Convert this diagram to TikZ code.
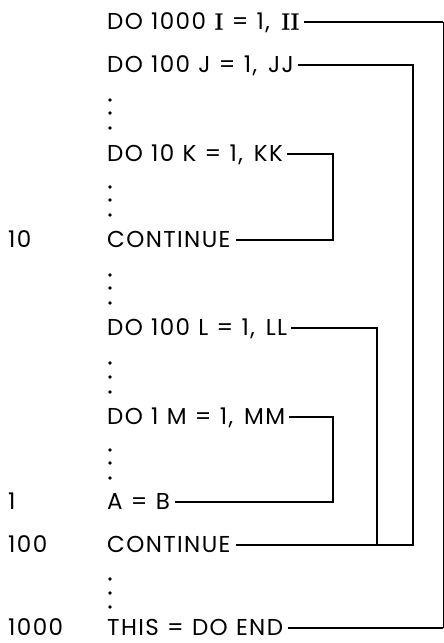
\documentclass[tikz,border=0pt]{standalone}
\usepackage{fontspec}
\setmainfont{Poppins}[LetterSpace=6, WordSpace=1.1]
\newfontfamily\serifI{Liberation Serif}[Scale=1.05, FakeStretch=1.15, FakeBold=0.6]
\newcommand{\RI}{{\serifI I}}
\newcommand{\cgap}{,\hspace{11pt}}
\begin{document}
\begin{tikzpicture}[x=1pt,y=-1pt,
  code/.style={anchor=west, inner sep=0pt, text height=15pt, text depth=0pt,
               font=\fontsize{23}{24}\selectfont},
  wire/.style={line width=2.2pt, line join=miter},
  edgewire/.style={line width=1.4pt}]
\useasboundingbox (0,0) rectangle (444,643);
% statements
\node[code] (nI)   at (107,22)  {DO 1000 \RI{} = 1\cgap\RI\RI};
\node[code] (nJ)   at (107,65)  {DO 100 J = 1\cgap JJ};
\node[code] (nK)   at (107,154) {DO 10 K = 1\cgap KK};
\node[code] (nC10) at (107,240) {CONTINUE};
\node[code] (nL)   at (107,328) {DO 100 L = 1\cgap LL};
\node[code] (nM)   at (107,417) {DO 1 M = 1\cgap MM};
\node[code] (nAB)  at (107,502) {A = B};
\node[code] (nC100) at (107,545) {CONTINUE};
\node[code] (nEnd) at (107,628) {THIS = DO END};
% labels
\node[code] (l10)   at (8,240) {10};
\node[code] (l1)    at (8,502) {1};
\node[code] (l100)  at (8,545) {100};
\node[code] (l1000) at (8,628) {1000};
% vertical dots
\foreach \y in {100,113,128, 187,200,215, 275,288,303, 363,377,392, 450,463,478, 579,593,607}
  \fill (110,\y) circle (1.9pt);
% bracket corner coordinates
\coordinate (xK) at (333,200);
\coordinate (xM) at (333,460);
\coordinate (xL) at (377,450);
\coordinate (xJ) at (413,300);
\coordinate (xI) at (443.3,300);
% connectors
\draw[wire] ([xshift=4pt]nK.east) -| (xK) |- ([xshift=5pt]nC10.east);
\draw[wire] ([xshift=4pt]nM.east) -| (xM) |- ([xshift=5pt]nAB.east);
\draw[wire] ([xshift=4pt]nL.east) -| (xL) |- ([xshift=5pt]nC100.east);
\draw[wire] ([xshift=4pt]nJ.east) -| (xJ) |- ([xshift=5pt]nC100.east);
\draw[wire] ([xshift=4pt]nI.east) -- (nI.east -| xI);
\draw[edgewire] (nI.east -| xI) -- (xI) -- (xI |- nEnd.east);
\draw[wire] ([xshift=5pt]nEnd.east) -- (nEnd.east -| xI);
\end{tikzpicture}
\end{document}
